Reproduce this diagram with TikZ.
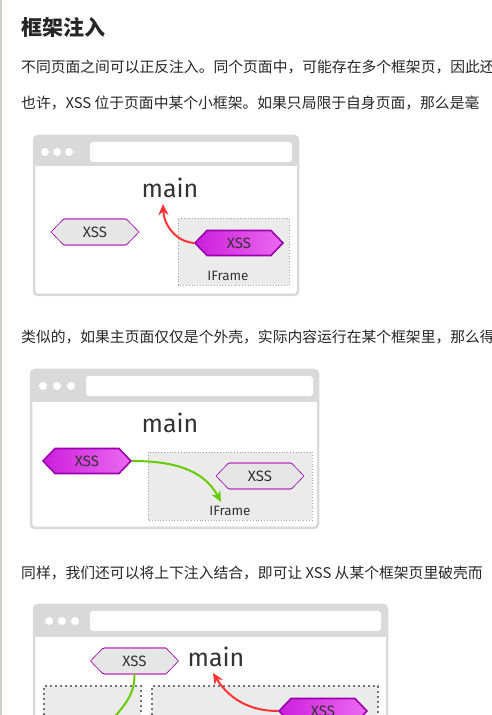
\documentclass[tikz,border=0pt]{standalone}
\usepackage{fontspec}
\setmainfont{Fira Sans}
\newfontfamily\cjk{Noto Sans CJK SC}
\newfontfamily\handfont{Fira Sans}
\usetikzlibrary{shapes.symbols,calc,arrows.meta}
\definecolor{wingray}{HTML}{D9D9D9}
\definecolor{framefill}{HTML}{EBEBEB}
\definecolor{hexfill}{HTML}{E6E6E6}
\definecolor{hexdark}{HTML}{9A00AE}
\definecolor{hexleft}{HTML}{CC1FDD}
\definecolor{hexright}{HTML}{EC6AF0}
\definecolor{hexrim}{HTML}{CC70D0}
\definecolor{arrred}{HTML}{FF3333}
\definecolor{arrgreen}{HTML}{66CC00}
\definecolor{ink}{HTML}{333333}
\definecolor{sideline}{HTML}{C9D3C9}
\tikzset{>=Stealth,
  para/.style={anchor=west, inner sep=0pt, text=black!85, font=\cjk\fontsize{14.8}{17}\selectfont},
  browser/.style={draw=wingray, line width=2.5pt, fill=white, rounded corners=4pt},
  titlebar/.style={fill=wingray, rounded corners=3pt},
  addrbar/.style={fill=white, rounded corners=3pt},
  windot/.style={fill=white, draw=none},
  iframe/.style={draw=black!35, fill=framefill, dotted, line width=0.8pt},
  iframebig/.style={draw=black!55, fill=framefill, dash pattern=on 2pt off 3pt, line width=2pt},
  hexbase/.style={signal, signal to=west and east, signal pointer angle=92,
    minimum width=88pt, minimum height=25pt, inner sep=0pt, text=ink,
    font=\handfont\fontsize{15}{15}\selectfont},
  hexhot/.style={hexbase, draw=hexdark, line width=1.6pt, left color=hexleft, right color=hexright},
  hexcold/.style={hexbase, draw=hexdark, line width=0.6pt, fill=hexfill},
  rim/.style={draw=hexrim, line width=2pt},
  mainlabel/.style={text=ink, font=\handfont\fontsize{25}{25}\selectfont},
  framelabel/.style={text=ink, font=\handfont\fontsize{13.5}{14}\selectfont},
  redarrow/.style={draw=arrred, line width=2pt, -{Stealth[length=11pt,width=10pt]}},
  greenarrow/.style={draw=arrgreen, line width=2pt, -{Stealth[length=11pt,width=10pt]}},
  greenline/.style={draw=arrgreen, line width=2pt}
}
\begin{document}
\begin{tikzpicture}[x=1pt,y=1pt]
    \useasboundingbox (0,0) rectangle (492,715);
    \clip (0,0) rectangle (492,715);
    \fill[white] (0,0) rectangle (492,715);
    \draw[sideline, line width=1.5pt] (0.75,0) -- (0.75,715);

    % text
    \node[para, font=\cjk\bfseries\fontsize{21}{24}\selectfont] (head) at (21,688) {框架注入};
    \node[para] (t1) at (21,648) {不同页面之间可以正反注入。同个页面中，可能存在多个框架页，因此还};
    \node[para] (t2) at (21,612) {也许，XSS 位于页面中某个小框架。如果只局限于自身页面，那么是毫};
    \node[para] (t3) at (21,378) {类似的，如果主页面仅仅是个外壳，实际内容运行在某个框架里，那么得};
    \node[para] (t4) at (21,142) {同样，我们还可以将上下注入结合，即可让 XSS 从某个框架页里破壳而};

    % first window
    \draw[browser] (34,420) rectangle (298,579);
    \fill[titlebar] (34,549) rectangle (298,579);
    \fill[addrbar] (90,553) rectangle (292,573);
    \foreach \dx in {45,57,69}
      \fill[windot] (\dx,563) circle (4);
    \fill[iframe] (178,430) rectangle (289,497);
    \draw[iframe] (178,430) rectangle (289,497);
    \node[mainlabel] (main1) at (170,527) {main};
    \node[framelabel] (frame1) at (228,439) {IFrame};
    \node[hexcold] (xa1) at (95,483) {XSS};
    \draw[rim] ($(xa1.north)+(-31,0)$) -- ($(xa1.north)+(31,0)$);
    \draw[rim] ($(xa1.south)+(-31,0)$) -- ($(xa1.south)+(31,0)$);
    \node[hexhot] (xb1) at (239,472) {XSS};
    \coordinate (tip1) at (163,511);
    \draw[redarrow] (xb1.west) to[out=175,in=-88] (tip1);

    % second window
    \draw[browser] (31,187) rectangle (318,345);
    \fill[titlebar] (31,313) rectangle (318,345);
    \fill[addrbar] (86,319) rectangle (313,339);
    \foreach \dx in {43,57,71}
      \fill[windot] (\dx,329) circle (4);
    \fill[iframe] (148,195) rectangle (312,263);
    \draw[iframe] (148,195) rectangle (312,263);
    \node[mainlabel] (main2) at (170,292) {main};
    \node[framelabel] (frame2) at (230,204) {IFrame};
    \node[hexhot] (xa2) at (87,254) {XSS};
    \node[hexcold] (xb2) at (260,239) {XSS};
    \draw[rim] ($(xb2.north)+(-31,0)$) -- ($(xb2.north)+(31,0)$);
    \draw[rim] ($(xb2.south)+(-31,0)$) -- ($(xb2.south)+(31,0)$);
    \coordinate (tip2) at (221,213);
    \draw[greenarrow] (xa2.east) to[out=0,in=118] (tip2);

    % third window
    \draw[browser] (34,-20) rectangle (387,110);
    \fill[titlebar] (34,78) rectangle (387,110);
    \fill[addrbar] (90,84) rectangle (381,104);
    \foreach \dx in {49,62,75}
      \fill[windot] (\dx,94) circle (4);
    \fill[framefill] (44,-20) rectangle (141,29);
    \fill[framefill] (152,-20) rectangle (378,29);
    \draw[iframebig] (44,-20) -- (44,29) -- (141,29) -- (141,-20);
    \draw[iframebig] (152,-20) -- (152,29) -- (378,29) -- (378,-20);
    \node[mainlabel] (main3) at (216,58) {main};
    \node[hexcold] (xa3) at (134.5,54) {XSS};
    \draw[rim] ($(xa3.north)+(-31,0)$) -- ($(xa3.north)+(31,0)$);
    \draw[rim] ($(xa3.south)+(-31,0)$) -- ($(xa3.south)+(31,0)$);
    \node[hexhot] (xb3) at (323,4) {XSS};
    \coordinate (tip3) at (213,42);
    \coordinate (down3) at (98,-25);
    \draw[redarrow] (xb3.west) to[out=180,in=-58] (tip3);
    \draw[greenline] (xa3.south) to[out=-88,in=62] (down3);
\end{tikzpicture}
\end{document}
